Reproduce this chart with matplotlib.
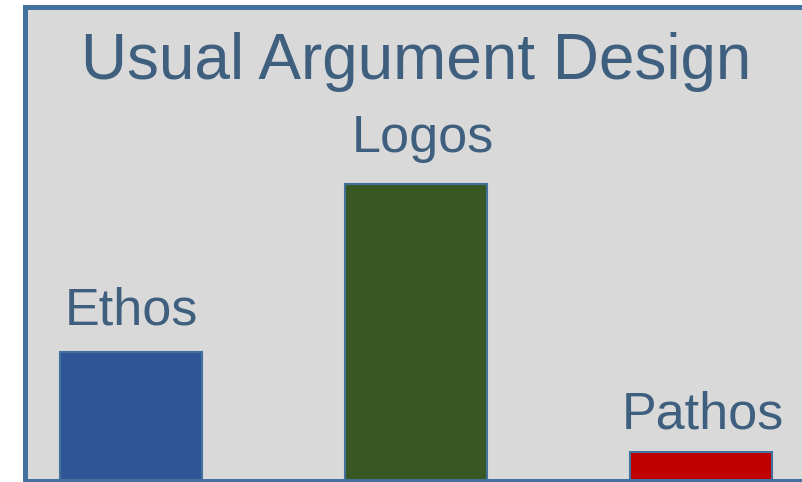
import matplotlib
matplotlib.use("Agg")
import matplotlib.pyplot as plt

categories = ["Ethos", "Logos", "Pathos"]
values = [13.0, 30.0, 2.85]
bar_colors = ["#2f5597", "#385723", "#c00000"]

TEXT_COLOR = "#3f5f7f"
EDGE_COLOR = "#41719c"
BG = "#d9d9d9"

# label offsets above each bar (points)
label_dx = [0.5, 5, 1.5]
label_dy = [20, 23, 17.5]

plt.rcParams["font.family"] = ["Liberation Sans", "DejaVu Sans"]

W, H = 802, 482
fig = plt.figure(figsize=(W / 100, H / 100), dpi=100)

# axes frame: left/top border visible, right runs off the image
left, top, bottom, right = 24.5, 6.5, 480.5, 806
ax = fig.add_axes([left / W, 1 - bottom / H, (right - left) / W, (bottom - top) / H])
ax.set_facecolor(BG)
for sp in ax.spines.values():
    sp.set_color(EDGE_COLOR)
    sp.set_linewidth(3.6)

x = range(len(categories))
bars = ax.bar(x, values, width=0.5, color=bar_colors, edgecolor=EDGE_COLOR,
              linewidth=1.5, zorder=2)

for rect, name, dx, dy in zip(bars, categories, label_dx, label_dy):
    ax.annotate(name, (rect.get_x() + rect.get_width() / 2, rect.get_height()),
                xytext=(dx, dy), textcoords="offset points",
                ha="center", va="baseline", fontsize=37.5, color=TEXT_COLOR)

ax.set_xlim(-0.374, 2.368)
ax.set_ylim(0, 48)
ax.set_xticks([])
ax.set_yticks([])

fig.text(416 / W, 1 - 79 / H, "Usual Argument Design", ha="center", va="baseline",
         fontsize=46, color=TEXT_COLOR)

fig.savefig("out.png", dpi=100)
